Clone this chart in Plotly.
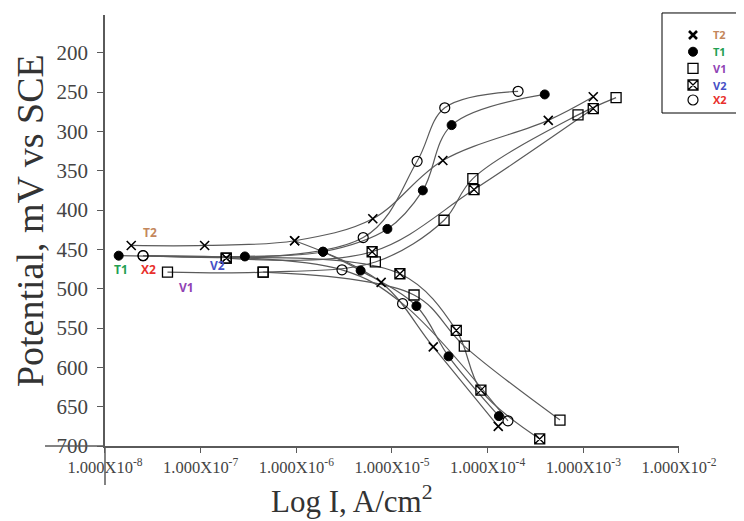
import plotly.graph_objects as go

# ---------------- data ----------------
x_tick_vals = [1e-8, 1e-7, 1e-6, 1e-5, 1e-4, 1e-3, 1e-2]
x_tick_text = ["1.000X10<sup>-8</sup>", "1.000X10<sup>-7</sup>", "1.000X10<sup>-6</sup>",
               "1.000X10<sup>-5</sup>", "1.000X10<sup>-4</sup>", "1.000X10<sup>-3</sup>",
               "1.000X10<sup>-2</sup>"]
y_tick_vals = [200, 250, 300, 350, 400, 450, 500, 550, 600, 650, 700]

T2_anodic_I = [1.88e-8, 1.10e-7, 9.6e-7, 6.3e-6, 3.4e-5, 4.3e-4, 1.27e-3]
T2_anodic_E = [445, 445, 439, 411, 337, 286, 256]
T2_cathodic_I = [9.6e-7, 7.7e-6, 2.7e-5, 1.29e-4]
T2_cathodic_E = [439, 492, 574, 675]

T1_anodic_I = [1.39e-8, 2.9e-7, 1.9e-6, 8.95e-6, 2.1e-5, 4.2e-5, 3.95e-4]
T1_anodic_E = [458, 459, 453, 424, 375, 292, 253]
T1_cathodic_I = [1.9e-6, 4.7e-6, 1.8e-5, 3.9e-5, 1.31e-4]
T1_cathodic_E = [453, 477, 522, 586, 662]

V1_anodic_I = [4.5e-8, 4.5e-7, 6.7e-6, 3.5e-5, 7.0e-5, 8.8e-4, 2.2e-3]
V1_anodic_E = [479, 479, 466, 413, 360, 279, 257]
V1_cathodic_I = [4.5e-7, 1.7e-5, 5.7e-5, 5.7e-4]
V1_cathodic_E = [479, 508, 573, 667]

V2_anodic_I = [1.85e-7, 6.2e-6, 7.2e-5, 1.27e-3]
V2_anodic_E = [461, 453, 374, 271]
V2_cathodic_I = [1.85e-7, 1.21e-5, 4.7e-5, 8.5e-5, 3.5e-4]
V2_cathodic_E = [461, 481, 553, 629, 691]

X2_anodic_I = [2.5e-8, 5.0e-6, 1.83e-5, 3.56e-5, 2.08e-4]
X2_anodic_E = [458, 435, 338, 270, 249]
X2_cathodic_I = [2.5e-8, 3.0e-6, 1.29e-5, 1.63e-4]
X2_cathodic_E = [458, 476, 519, 668]

series_names = ["T2", "T1", "V1", "V2", "X2"]
series_data = {
    "T2": (T2_anodic_I, T2_anodic_E, T2_cathodic_I, T2_cathodic_E),
    "T1": (T1_anodic_I, T1_anodic_E, T1_cathodic_I, T1_cathodic_E),
    "V1": (V1_anodic_I, V1_anodic_E, V1_cathodic_I, V1_cathodic_E),
    "V2": (V2_anodic_I, V2_anodic_E, V2_cathodic_I, V2_cathodic_E),
    "X2": (X2_anodic_I, X2_anodic_E, X2_cathodic_I, X2_cathodic_E),
}

# ---------------- styles ----------------
label_colors = {"T2": "#C4875C", "T1": "#22A052", "V1": "#9043B4", "V2": "#4650C6", "X2": "#E8302C"}
marker_styles = {
    "T2": dict(symbol="x-thin-open", size=9, color="black", line=dict(color="black", width=1.6)),
    "T1": dict(symbol="circle", size=9, color="black", line=dict(color="black", width=1)),
    "V1": dict(symbol="square-open", size=10, color="black", line=dict(color="black", width=1.3)),
    "V2": dict(symbol="square-x-open", size=10, color="black", line=dict(color="black", width=1.3)),
    "X2": dict(symbol="circle-open", size=10, color="black", line=dict(color="black", width=1.2)),
}
legend_marker_styles = dict(marker_styles)
legend_marker_styles["T2"] = dict(symbol="x-thin-open", size=8, color="black",
                                  line=dict(color="black", width=2.6))
# in-plot label positions (log10 I, E)
label_pos = {"T2": (-7.53, 429), "T1": (-7.83, 475), "X2": (-7.55, 475), "V2": (-6.82, 471), "V1": (-7.15, 498)}

# layout in figure-paper coordinates (whole figure = [0,1] x [0,1])
plot_x_domain = [0.13179, 0.91168]
plot_y_domain = [0.14620, 0.98635]
legend_marker_x = 0.9307
legend_text_x = 0.9550
legend_rows_y = [0.9474, 0.9148, 0.8825, 0.8499, 0.8207]

line_color = "#5a5a5a"
serif = "Liberation Serif"

fig = go.Figure()

# curves (spline lines)
for name in series_names:
    ai, ae, ci, ce = series_data[name]
    for xs, ys in ((ai, ae), (ci, ce)):
        fig.add_trace(go.Scatter(
            x=xs, y=ys, mode="lines",
            line=dict(color=line_color, width=1.2, shape="spline", smoothing=1.0),
            showlegend=False, hoverinfo="skip"))

# markers
for name in series_names:
    ai, ae, ci, ce = series_data[name]
    fig.add_trace(go.Scatter(
        x=ai + ci, y=ae + ce, mode="markers",
        marker=marker_styles[name], name=name, showlegend=False))

# legend symbols on an invisible full-figure axis pair
for name, ry in zip(series_names, legend_rows_y):
    fig.add_trace(go.Scatter(
        x=[legend_marker_x], y=[ry], mode="markers", xaxis="x2", yaxis="y2",
        marker=legend_marker_styles[name], cliponaxis=False, showlegend=False,
        hoverinfo="skip"))

annotations = []
for name, ry in zip(series_names, legend_rows_y):
    annotations.append(dict(x=legend_text_x, y=ry, xref="paper", yref="paper",
                            text="<b>%s</b>" % name, showarrow=False,
                            xanchor="left", yanchor="middle",
                            font=dict(family="Open Sans", size=11, color=label_colors[name])))
for name, (lx, ly) in label_pos.items():
    annotations.append(dict(x=lx, y=ly, xref="x", yref="y", text="<b>%s</b>" % name,
                            showarrow=False, font=dict(family="Open Sans", size=12,
                                                       color=label_colors[name])))
# axis titles
annotations.append(dict(x=0.0300, y=0.5848, xref="paper", yref="paper",
                        text="Potential, mV vs SCE", textangle=-90, showarrow=False,
                        font=dict(family=serif, size=38, color="#333333"),
                        xanchor="center", yanchor="middle"))
annotations.append(dict(x=0.4672, y=0.0840, xref="paper", yref="paper",
                        text="Log I, A/cm<sup>2</sup>", showarrow=False,
                        font=dict(family=serif, size=31, color="#333333"),
                        xanchor="center", yanchor="top"))

shapes = [
    # x-axis extension to the left of the y axis
    dict(type="line", xref="paper", yref="paper", x0=0.0503, x1=plot_x_domain[0],
         y0=plot_y_domain[0], y1=plot_y_domain[0], line=dict(color=line_color, width=1.5)),
    # y-axis extension below the x axis
    dict(type="line", xref="paper", yref="paper", x0=plot_x_domain[0], x1=plot_x_domain[0],
         y0=0.0702, y1=plot_y_domain[0], line=dict(color=line_color, width=1.5)),
    # legend frame
    dict(type="rect", xref="paper", yref="paper", x0=0.8886, x1=0.9973, y0=0.7953, y1=0.9903,
         line=dict(color="black", width=1), fillcolor="rgba(0,0,0,0)"),
]

fig.update_layout(
    width=736, height=513,
    margin=dict(l=0, r=0, t=0, b=0, autoexpand=False),
    paper_bgcolor="white", plot_bgcolor="rgba(0,0,0,0)",
    showlegend=False,
    xaxis=dict(type="log", range=[-8, -2], domain=plot_x_domain, anchor="y",
               tickvals=x_tick_vals, ticktext=x_tick_text,
               showgrid=False, zeroline=False, showline=True, linecolor=line_color, linewidth=1.5,
               ticks="outside", ticklen=5, tickcolor=line_color, tickwidth=1.2,
               tickfont=dict(family=serif, size=16.5, color="#444444")),
    yaxis=dict(range=[700, 152], domain=plot_y_domain, anchor="x", tickvals=y_tick_vals,
               showgrid=False, zeroline=False, showline=True, linecolor=line_color, linewidth=1.5,
               ticks="outside", ticklen=6, tickcolor=line_color, tickwidth=1.2,
               ticklabelstandoff=5,
               tickfont=dict(family=serif, size=21, color="#444444")),
    xaxis2=dict(domain=[0, 1], anchor="y2", range=[0, 1], visible=False, fixedrange=True),
    yaxis2=dict(domain=[0, 1], anchor="x2", range=[0, 1], visible=False, fixedrange=True),
    annotations=annotations,
    shapes=shapes,
    hovermode=False,
)

fig.write_html("out.html")
